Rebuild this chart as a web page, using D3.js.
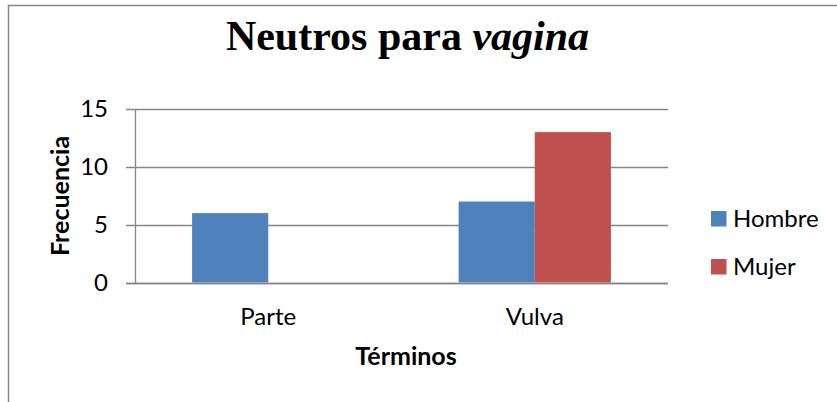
<!DOCTYPE html>
<html>
<head>
<meta charset="utf-8">
<script src="https://cdn.jsdelivr.net/npm/d3@7"></script>
<style>
  html, body { margin: 0; padding: 0; background: #fff; }
  svg { display: block; }
</style>
</head>
<body>
<svg id="chart" width="837" height="402"></svg>
<script>
const categories = ["Parte", "Vulva"];
const seriesNames = ["Hombre", "Mujer"];
const hombre = [6, 7];
const mujer = [0, 13];
const yTicks = [0, 5, 10, 15];
const colors = ["#4F81BD", "#C0504D"];

const svg = d3.select("#chart");
const sans = "Lato, 'Open Sans', sans-serif";

// outer chart border
svg.append("rect")
  .attr("x", 8.5).attr("y", 5.5)
  .attr("width", 900).attr("height", 500)
  .attr("fill", "#fff")
  .attr("stroke", "#868686").attr("stroke-width", 1.5);

const plot = { left: 135, right: 668, top: 109, bottom: 282.5 };

const x0 = d3.scaleBand().domain(categories).range([plot.left, plot.right]).paddingInner(0).paddingOuter(0);
const barW = x0.bandwidth() / 3.5;
const x1 = d3.scaleBand().domain(seriesNames).range([0, barW * 2]);
const y = d3.scaleLinear().domain([0, 15]).range([plot.bottom, plot.top]);

// gridlines
svg.append("g").selectAll("line").data(yTicks).join("line")
  .attr("x1", plot.left - 9).attr("x2", plot.right)
  .attr("y1", d => Math.round(y(d)) + 0.5).attr("y2", d => Math.round(y(d)) + 0.5)
  .attr("stroke", "#868686").attr("stroke-width", 1.3);

// y axis line
svg.append("line")
  .attr("x1", plot.left + 0.5).attr("x2", plot.left + 0.5)
  .attr("y1", plot.top).attr("y2", plot.bottom + 0.5)
  .attr("stroke", "#868686").attr("stroke-width", 1.3);

// y tick labels
svg.append("g").selectAll("text").data(yTicks).join("text")
  .attr("x", 108).attr("y", d => y(d))
  .attr("dy", "0.35em")
  .attr("text-anchor", "end")
  .attr("font-family", sans).attr("font-size", 24)
  .attr("fill", "#000")
  .text(d => d);

// bars
const data = categories.map((c, i) => ({ cat: c, vals: [hombre[i], mujer[i]] }));
const groups = svg.append("g").selectAll("g").data(data).join("g")
  .attr("transform", d => `translate(${x0(d.cat) + x0.bandwidth() / 2 - barW},0)`);
groups.selectAll("rect").data(d => d.vals.map((v, j) => ({ v, j })))
  .join("rect")
  .attr("x", d => x1(seriesNames[d.j]))
  .attr("width", x1.bandwidth())
  .attr("y", d => y(d.v))
  .attr("height", d => y(0) - y(d.v))
  .attr("fill", d => colors[d.j]);

// redraw baseline over bars
svg.append("line")
  .attr("x1", plot.left - 9).attr("x2", plot.right)
  .attr("y1", Math.round(y(0)) + 0.5).attr("y2", Math.round(y(0)) + 0.5)
  .attr("stroke", "#868686").attr("stroke-width", 1.3);

// category labels
svg.append("g").selectAll("text").data(categories).join("text")
  .attr("x", d => x0(d) + x0.bandwidth() / 2)
  .attr("y", 325)
  .attr("text-anchor", "middle")
  .attr("font-family", sans).attr("font-size", 24)
  .text(d => d);

// axis titles
svg.append("text")
  .attr("x", 406).attr("y", 365)
  .attr("text-anchor", "middle")
  .attr("font-family", sans).attr("font-size", 25).attr("font-weight", "bold")
  .text("Términos");

svg.append("text")
  .attr("transform", "translate(69,196) rotate(-90)")
  .attr("text-anchor", "middle")
  .attr("font-family", sans).attr("font-size", 25).attr("font-weight", "bold")
  .text("Frecuencia");

// title
const title = svg.append("text")
  .attr("x", 407.5).attr("y", 50)
  .attr("text-anchor", "middle")
  .attr("font-family", "'Liberation Serif', 'Times New Roman', serif")
  .attr("font-size", 42).attr("font-weight", "bold");
title.append("tspan").text("Neutros para ");
title.append("tspan").attr("font-style", "italic").text("vagina");

// legend
const leg = svg.append("g").selectAll("g").data(seriesNames).join("g")
  .attr("transform", (d, i) => `translate(711,${211 + i * 48})`);
leg.append("rect").attr("width", 15.5).attr("height", 15.5).attr("fill", (d, i) => colors[i]);
leg.append("text").attr("x", 22).attr("y", 15.5)
  .attr("font-family", sans).attr("font-size", 24)
  .text(d => d);
</script>
</body>
</html>
